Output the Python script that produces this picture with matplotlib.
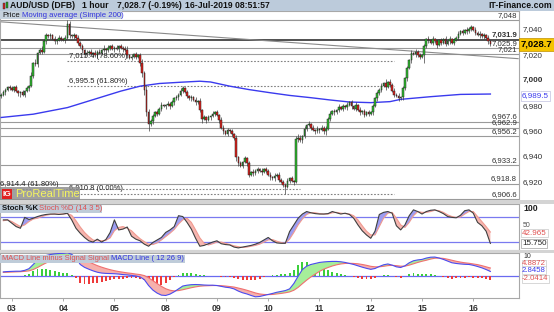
import matplotlib
matplotlib.use("Agg")
import matplotlib.pyplot as plt
import matplotlib.transforms as mtransforms
from matplotlib.patches import Rectangle
import numpy as np

plt.rcParams['font.family'] = ['Liberation Sans', 'DejaVu Sans']

W, H = 554, 312

# ---- data ----
# hourly closes, 02-Jul 19:00 -> 16-Jul 08:00 (AUD/USD x 10000)
closes = [
    6989, 6991, 6993, 6995, 6994,
    # 03 Jul
    6993, 6995, 6992, 6990, 6991, 6989, 6992, 6994, 6996, 7004, 7014, 7013,
    7022, 7024, 7023, 7031, 7036, 7035, 7036, 7033, 7031, 7032, 7034, 7033,
    # 04 Jul
    7032, 7034, 7045, 7036, 7035, 7036, 7034, 7030, 7027, 7024, 7021, 7022,
    7023, 7021, 7022, 7020, 7023, 7022, 7024, 7025, 7024, 7026, 7027, 7025,
    # 05 Jul
    7026, 7025, 7027, 7026, 7025, 7024, 7020, 7018, 7019, 7021, 7019, 7020,
    7014, 7006, 6993, 6975, 6966, 6968, 6972, 6975, 6974, 6978, 6981, 6980,
    # 08 Jul
    6981, 6982, 6980, 6983, 6986, 6987, 6989, 6992, 6994, 6991, 6988, 6986,
    6987, 6985, 6983, 6984, 6977, 6970, 6971, 6969, 6971, 6972, 6974, 6975,
    # 09 Jul
    6973, 6969, 6963, 6960, 6958, 6961, 6960, 6958, 6955, 6940, 6935, 6933,
    6936, 6939, 6935, 6926, 6928, 6927, 6929, 6930, 6929, 6928, 6930, 6929,
    # 10 Jul
    6926, 6924, 6923, 6925, 6926, 6922, 6920, 6918, 6916, 6921, 6923, 6921,
    6920, 6954, 6955, 6953, 6956, 6962, 6965, 6966, 6963, 6961, 6960, 6962,
    # 11 Jul
    6961, 6963, 6960, 6962, 6970, 6974, 6976, 6975, 6977, 6979, 6978, 6980,
    6979, 6981, 6983, 6980, 6978, 6981, 6977, 6975, 6976, 6973, 6975, 6974,
    # 12 Jul
    6975, 6980, 6986, 6990, 6993, 6996, 6998, 6995, 6999, 6997, 6992, 6989,
    6988, 6986, 6987, 6994, 7002, 7010, 7016, 7022, 7021, 7023, 7020, 7019,
    # 15 Jul
    7020, 7027, 7033, 7032, 7030, 7033, 7031, 7028, 7032, 7030, 7033, 7029,
    7031, 7033, 7030, 7032, 7034, 7037, 7039, 7038, 7040, 7039, 7041, 7042,
    # 16 Jul
    7040, 7038, 7036, 7037, 7035, 7036, 7034, 7031, 7028.7,
]
first_open = 6988.0
upper_wick = [
    1, 2, 1, 1, 2,
    2, 1, 2, 1, 1, 2, 1, 2, 1, 3, 1, 3, 1, 2, 3, 1, 2, 1, 2, 1, 2, 1, 2, 1,
    1, 2, 3, 2, 1, 2, 1, 2, 1, 2, 1, 2, 1, 2, 1, 2, 1, 2, 1, 3, 1, 2, 1, 2,
    1, 2, 1, 2, 1, 2, 3, 1, 2, 1, 2, 1, 2, 3, 2, 4, 3, 2, 2, 1, 2, 1, 2, 1,
    1, 2, 1, 2, 1, 2, 1, 2, 2, 1, 2, 1, 2, 1, 2, 1, 2, 1, 2, 1, 2, 1, 2, 1,
    2, 1, 2, 2, 1, 2, 1, 2, 1, 2, 1, 2, 1, 2, 1, 2, 1, 2, 1, 2, 1, 2, 1, 2,
    1, 2, 1, 2, 1, 2, 1, 2, 1, 2, 1, 2, 1, 2, 3, 2, 1, 2, 1, 2, 1, 2, 1, 2,
    1, 2, 1, 2, 1, 2, 1, 2, 1, 3, 1, 2, 1, 2, 1, 2, 1, 2, 1, 2, 1, 2, 1, 2,
    1, 2, 1, 2, 1, 2, 1, 3, 1, 2, 1, 2, 1, 2, 1, 2, 1, 2, 1, 2, 1, 2, 1, 2,
    1, 2, 1, 2, 1, 2, 1, 2, 1, 2, 1, 2, 1, 2, 1, 2, 1, 2, 1, 2, 1, 2, 1, 2,
    1, 2, 1, 2, 1, 2, 1, 2, 1,
]
lower_wick = [
    2, 1, 2, 1, 1,
    1, 2, 1, 2, 3, 1, 2, 1, 2, 1, 2, 1, 2, 1, 2, 1, 2, 1, 2, 1, 2, 2, 1, 2,
    1, 2, 1, 2, 1, 2, 1, 2, 1, 2, 2, 1, 2, 1, 2, 1, 2, 1, 2, 1, 2, 1, 2, 1,
    2, 1, 2, 1, 2, 1, 2, 1, 2, 1, 2, 1, 2, 3, 4, 3, 6, 2, 2, 1, 2, 1, 2, 1,
    2, 1, 2, 1, 2, 1, 2, 1, 2, 1, 2, 1, 2, 1, 2, 1, 2, 3, 1, 2, 1, 2, 1, 2,
    1, 2, 1, 2, 1, 2, 1, 2, 2, 3, 2, 1, 2, 1, 2, 2, 1, 2, 1, 2, 1, 2, 1, 2,
    1, 2, 1, 2, 1, 2, 1, 2, 5, 1, 2, 1, 2, 1, 2, 1, 2, 1, 2, 1, 2, 1, 2, 1,
    2, 1, 2, 3, 1, 2, 1, 2, 1, 2, 1, 2, 1, 2, 1, 2, 1, 2, 1, 2, 1, 2, 1, 2,
    1, 2, 1, 2, 1, 2, 1, 2, 1, 2, 1, 2, 1, 2, 1, 2, 1, 2, 1, 2, 1, 2, 1, 2,
    1, 6, 1, 2, 1, 2, 1, 2, 1, 2, 1, 2, 1, 2, 1, 2, 1, 2, 1, 2, 1, 2, 1, 2,
    1, 2, 1, 2, 1, 2, 1, 2, 1,
]

# simple 200 moving average read at a few hours
ma_hours = [-5, 10, 26, 41, 51, 60, 69, 79, 88, 93, 102, 111, 121, 130, 140,
            149, 158, 168, 177, 182, 196, 210, 224]
ma_values = [6971.0, 6973.6, 6978.8, 6986.6, 6991.8, 6995.7, 6997.8, 6998.8,
             6999.6, 6999.0, 6995.7, 6993.0, 6990.5, 6988.4, 6986.6, 6984.8,
             6983.2, 6982.7, 6983.5, 6985.3, 6987.4, 6989.2, 6989.5]

# indicators read every 2 hours (-4 .. 224)
stoch_k = [
    72, 72, 64, 56, 52, 78, 73, 76, 80, 83,
    85, 86, 86, 85, 86, 88, 72, 52, 40, 30,
    22, 19, 26, 19, 25, 42, 72, 48, 50, 55,
    33, 26, 22, 14, 9, 18, 24, 30, 42, 48,
    56, 82, 80, 66, 50, 28, 9, 11, 15, 19,
    22, 15, 13, 12, 7, 5, 7, 9, 11, 14,
    18, 24, 30, 22, 17, 16, 16, 44, 60, 76,
    86, 92, 89, 87, 86, 86, 87, 92, 89, 86,
    88, 85, 76, 60, 46, 36, 28, 45, 85, 90,
    92, 88, 58, 48, 60, 82, 96, 92, 86, 92,
    95, 96, 92, 87, 80, 78, 77, 83, 94, 96,
    88, 66, 58, 45, 15.75,
]
stoch_d = [
    70, 72, 68, 62, 56, 60, 68, 74, 76, 80,
    83, 85, 86, 86, 86, 87, 83, 70, 55, 42,
    32, 24, 22, 22, 23, 29, 46, 54, 56, 52,
    46, 36, 27, 20, 14, 13, 17, 24, 32, 40,
    49, 62, 72, 76, 66, 48, 29, 16, 12, 15,
    19, 19, 16, 13, 10, 8, 6, 7, 9, 11,
    14, 19, 24, 25, 21, 18, 16, 26, 42, 60,
    74, 85, 89, 89, 87, 86, 86, 89, 90, 88,
    87, 86, 82, 72, 58, 45, 36, 36, 56, 76,
    88, 90, 76, 60, 54, 66, 82, 92, 90, 90,
    92, 95, 94, 90, 84, 80, 78, 79, 86, 92,
    92, 80, 68, 56, 42.965,
]
macd_line = [
    2.6, 2.8, 2.9, 3.0, 3.0, 3.5, 4.5, 7.0, 9.6, 11.2,
    12.3, 12.9, 13.3, 13.5, 13.6, 14.0, 13.0, 11.0, 7.0, 5.3,
    4.2, 3.2, 2.4, 1.9, 1.7, 1.6, 1.5, 1.3, 1.0, 0.8,
    0.5, 0.2, -0.4, -2.0, -5.5, -8.2, -10.0, -11.2, -11.4, -10.6,
    -9.2, -7.5, -5.8, -5.3, -5.0, -4.9, -5.0, -5.2, -5.3, -5.3,
    -5.5, -6.0, -6.5, -6.8, -7.5, -8.8, -9.8, -10.5, -11.4, -12.2,
    -12.0, -11.4, -10.8, -10.2, -9.5, -9.0, -8.5, -7.5, -4.3, 0.0,
    4.0, 6.0, 7.0, 7.6, 8.2, 8.5, 8.7, 8.8, 8.8, 8.6,
    8.2, 7.6, 7.0, 6.2, 5.4, 4.7, 4.1, 4.6, 5.8, 6.8,
    7.3, 6.6, 5.6, 5.2, 6.2, 8.0, 9.2, 9.7, 10.0, 10.8,
    11.3, 11.4, 10.8, 10.0, 9.0, 8.0, 7.6, 7.3, 7.1, 7.0,
    6.5, 5.8, 5.0, 4.0, 2.8458,
]
macd_signal = [
    2.3, 2.4, 2.5, 2.6, 2.7, 2.9, 3.2, 4.0, 5.2, 6.6,
    7.9, 9.0, 10.0, 10.8, 11.5, 12.0, 12.3, 12.1, 11.0, 9.8,
    8.6, 7.4, 6.3, 5.4, 4.6, 3.9, 3.3, 2.8, 2.4, 2.0,
    1.7, 1.3, 1.0, 0.4, -0.9, -2.6, -4.3, -6.0, -7.4, -8.3,
    -8.7, -8.5, -8.0, -7.4, -6.8, -6.3, -5.9, -5.7, -5.6, -5.5,
    -5.5, -5.6, -5.8, -6.1, -6.4, -7.0, -7.6, -8.3, -9.1, -9.9,
    -10.5, -10.8, -10.9, -10.8, -10.5, -10.2, -9.8, -9.3, -8.3, -6.6,
    -4.4, -2.3, -0.4, 1.3, 2.9, 4.2, 5.2, 6.1, 6.8, 7.3,
    7.6, 7.7, 7.6, 7.4, 7.0, 6.5, 5.9, 5.6, 5.6, 5.9,
    6.3, 6.5, 6.3, 6.0, 6.0, 6.6, 7.4, 8.2, 8.9, 9.5,
    10.2, 10.7, 10.8, 10.6, 10.1, 9.5, 8.9, 8.4, 8.0, 7.7,
    7.3, 6.9, 6.3, 5.6, 4.8872,
]

day_labels = ['03', '04', '05', '08', '09', '10', '11', '12', '15', '16']

levels = [7048.0, 7031.9, 7025.9, 7021.0, 6967.6, 6962.9, 6956.2, 6933.2, 6918.8, 6906.6]
level_labels = ['7,048', '7,031.9', '7,025.9', '7,021', '6,967.6', '6,962.9',
                '6,956.2', '6,933.2', '6,918.8', '6,906.6']

fib_levels = [7015.4, 6995.5, 6910.8, 6914.4]
fib_labels = ['7,015.4 (78.60%)', '6,995.5 (61.80%)', '6,910.8 (0.00%)', '6,914.4 (61.80%)']
fib_start = [26, 26, 26, -6]
fib_end = [179, 179, 179, 135]

trend_hours = [-5.6, 237]
trend_prices = [7046.5, 7017.4]

price_ticks = [7040, 7020, 7000, 6980, 6960, 6940, 6920]
last_price = 7028.7
last_ma = 6989.5

# ---- derived arrays ----
n = len(closes)
hours = np.arange(n) - 5
c = np.array(closes, dtype=float)
o = np.concatenate([[first_open], c[:-1]])
hi = np.maximum(o, c) + np.array(upper_wick)
lo = np.minimum(o, c) - np.array(lower_wick)
ind_hours = np.arange(-4, 225, 2)
k = np.array(stoch_k, dtype=float)
d = np.array(stoch_d, dtype=float)
ml = np.array(macd_line)
sg = np.array(macd_signal)
hist = ml - sg

XMIN, XMAX = -5.56, 237.4

fig = plt.figure(figsize=(W / 100, H / 100), dpi=100)
fig.patch.set_facecolor('white')


def rect(x0, y0, x1, y1):
    return [x0 / W, 1 - y1 / H, (x1 - x0) / W, (y1 - y0) / H]


def ftext(x, y, s, **kw):
    kw.setdefault('va', 'center')
    return fig.text(x / W, 1 - y / H, s, **kw)


def fbox(x0, y0, x1, y1, **kw):
    fig.patches.append(Rectangle((x0 / W, 1 - y1 / H), (x1 - x0) / W, (y1 - y0) / H,
                                 transform=fig.transFigure, **kw))


# separators
fbox(0, 200, 554, 204, fc='#d4d4d4', ec='none', zorder=0)
fbox(0, 250, 554, 252.5, fc='#d4d4d4', ec='none', zorder=0)

ax = fig.add_axes(rect(0, 11, 519, 200.5))
ax2 = fig.add_axes(rect(0, 204, 519, 250))
ax3 = fig.add_axes(rect(0, 252.5, 519, 298))

for a in (ax, ax2, ax3):
    a.set_xlim(XMIN, XMAX)
    a.set_yticks([])
    a.set_xticks([])
    for s in a.spines.values():
        s.set_color('#a8a8a8')
        s.set_linewidth(0.8)

# ---- price panel ----
ax.set_ylim(6905.5, 7055.0)
for lv, lab in zip(levels, level_labels):
    if lv == 7031.9:
        ax.axhline(lv, color='#505050', lw=1.4, zorder=1)
    else:
        ax.axhline(lv, color='#9a9a9a', lw=0.8, zorder=1)
    ax.text(236.5, lv + 1.0, lab, ha='right', va='bottom', fontsize=5.6,
            color='#303030', fontweight='bold' if lv == 7031.9 else 'normal', zorder=5)

for lv, lab, s0, s1 in zip(fib_levels, fib_labels, fib_start, fib_end):
    ax.plot([s0, s1], [lv, lv], color='#808080', lw=0.8, ls=(0, (1.5, 1.5)), zorder=1)
    ax.text(s0 + 0.6, lv + 1.2, lab, ha='left', va='bottom', fontsize=5.5,
            color='#202020', zorder=6)

ax.plot(trend_hours, trend_prices, color='#8a8a8a', lw=0.8, zorder=1)
ax.plot(ma_hours, ma_values, color='#3a3aee', lw=1.0, zorder=3)

up = c >= o
body_lo = np.minimum(o, c)
body_h = np.maximum(np.abs(c - o), 0.3)
ax.vlines(hours, lo, hi, color='#404040', lw=0.5, zorder=3)
ax.bar(hours, body_h, bottom=body_lo, width=0.75,
       color=np.where(up, '#2fbf2f', '#e0201c'), edgecolor='#202020',
       linewidth=0.35, zorder=4)

ytr = mtransforms.blended_transform_factory(ax.transAxes, ax.transData)
for p in price_ticks:
    ax.text(1 + 4 / 519, p, f'{p:,}', transform=ytr, ha='left', va='center',
            fontsize=5.8, color='#303030', fontweight='bold' if p == 7000 else 'normal',
            clip_on=False)
ax.text(1 + 1.5 / 519, last_price, f'{last_price:,.1f}', transform=ytr, ha='left',
        va='center', fontsize=6.8, fontweight='bold', color='black', clip_on=False,
        bbox=dict(boxstyle='square,pad=0.18', fc='#f5c400', ec='#c09000', lw=0.5), zorder=10)
ax.text(1 + 3 / 519, last_ma - 1.5, f'{last_ma:,.1f}', transform=ytr, ha='left',
        va='center', fontsize=5.8, color='#3a3aee', clip_on=False,
        bbox=dict(boxstyle='square,pad=0.15', fc='white', ec='#c0c0e0', lw=0.5), zorder=10)

# ---- stochastic panel ----
ax2.set_ylim(0, 110)
ax2.axhline(80, color='#7a7af0', lw=0.9, zorder=1)
ax2.axhline(20, color='#7a7af0', lw=0.9, zorder=1)
ax2.fill_between(ind_hours, k, d, where=k >= d, interpolate=True, color='#9d9df2', lw=0, zorder=2)
ax2.fill_between(ind_hours, k, d, where=k < d, interpolate=True, color='#f6b6b0', lw=0, zorder=2)
ax2.plot(ind_hours, d, color='#f09a90', lw=0.8, zorder=3)
ax2.plot(ind_hours, k, color='#404040', lw=0.8, zorder=4)

ytr2 = mtransforms.blended_transform_factory(ax2.transAxes, ax2.transData)
ax2.text(1 + 4 / 519, 100, '100', transform=ytr2, ha='left', va='center', fontsize=6.3,
         fontweight='bold', color='#202020', clip_on=False)
ax2.text(1 + 4 / 519, 58, '50', transform=ytr2, ha='left', va='center', fontsize=5,
         color='#505050', clip_on=False)
ax2.text(1 + 3 / 519, 40.5, '42.965', transform=ytr2, ha='left', va='center',
         fontsize=5.8, color='#e05050', clip_on=False,
         bbox=dict(boxstyle='square,pad=0.1', fc='white', ec='#c8c8c8', lw=0.5))
ax2.text(1 + 3 / 519, 15.75, '15.750', transform=ytr2, ha='left', va='center',
         fontsize=5.8, color='#202020', clip_on=False,
         bbox=dict(boxstyle='square,pad=0.1', fc='white', ec='#a0a0a0', lw=0.5))

# ---- MACD panel ----
ax3.set_ylim(-12.9, 14.1)
ax3.axhline(0, color='#6a6af0', lw=0.9, zorder=1)
ax3.bar(ind_hours, hist, width=0.9, color=np.where(hist >= 0, '#3ccf3c', '#ee3a3a'),
        lw=0, zorder=2)
ax3.fill_between(ind_hours, ml, sg, where=ml >= sg, interpolate=True, color='#a6ee9a', lw=0, zorder=2)
ax3.fill_between(ind_hours, ml, sg, where=ml < sg, interpolate=True, color='#f6b0ac', lw=0, zorder=2)
ax3.plot(ind_hours, sg, color='#f07070', lw=0.8, zorder=3)
ax3.plot(ind_hours, ml, color='#4a4af0', lw=0.8, zorder=4)

ytr3 = mtransforms.blended_transform_factory(ax3.transAxes, ax3.transData)
ax3.text(1 + 4 / 519, 11.6, '10', transform=ytr3, ha='left', va='center', fontsize=5,
         color='#303030', clip_on=False)
for val, yv, col in [(4.8872, 7.6, '#e05050'), (2.8458, 3.6, '#3a3aee'), (-2.0414, -1.4, '#e05050')]:
    ax3.text(1 + 3 / 519, yv, f'{val:.4f}', transform=ytr3, ha='left', va='center',
             fontsize=5.6, color=col, clip_on=False,
             bbox=dict(boxstyle='square,pad=0.05', fc='white', ec='#c8c8c8', lw=0.5))

ax3.set_xticks(np.arange(len(day_labels)) * 24)
ax3.set_xticklabels(day_labels, fontsize=6.3, fontweight='bold', color='#303030')
ax3.tick_params(axis='x', length=2, width=0.6, color='#a0a0a0', pad=2)

# ---- header and panel titles ----
fbox(0, 0, 554, 11, fc='#bccbdb', ec='none', zorder=0)
fbox(2.5, 3, 4.5, 9, fc='#d02020', ec='#303030', lw=0.3)
fbox(5.5, 2, 7.5, 8, fc='#20a020', ec='#303030', lw=0.3)
hdr = dict(fontsize=6.2, fontweight='bold', color='#111111')
ftext(10, 5.8, 'AUD/USD (DFB)', **hdr)
ftext(82, 5.8, '1 hour', **hdr)
ftext(117, 5.8, '7,028.7 (-0.19%)', **hdr)
ftext(185, 5.8, '16-Jul-2019 08:51:57', **hdr)
ftext(552, 5.8, 'IT-Finance.com', ha='right', **hdr)

fbox(0, 11, 122, 19, fc='#c6d2de', ec='none', zorder=5)
ftext(2, 15.2, 'Price', fontsize=5.6, color='#111111', zorder=6)
ftext(22, 15.2, 'Moving average (Simple 200)', fontsize=5.6, color='#3333dd', zorder=6)

fbox(0, 204.5, 102, 213, fc='#bfccd9', ec='none', zorder=5)
ftext(2, 208.8, 'Stoch %K', fontsize=5.6, fontweight='bold', color='#111111', zorder=6)
ftext(39, 208.8, 'Stoch %D (14 3 5)', fontsize=5.6, color='#e05050', zorder=6)

fbox(0, 254.5, 185, 263, fc='#bfccd9', ec='none', zorder=5)
ftext(2, 258.8, 'MACD Line minus Signal Signal', fontsize=5.4, color='#e05050', zorder=6)
ftext(111, 258.8, 'MACD Line ( 12 26 9)', fontsize=5.4, color='#3333dd', zorder=6)

# logo
fbox(0, 187, 80, 200, fc='#8f8f8f', ec='none', alpha=0.85, zorder=5)
fbox(2, 188.5, 12, 199, fc='#e02020', ec='none', zorder=6)
ftext(7, 194, 'IG', fontsize=6, fontweight='bold', color='white', ha='center', zorder=7)
ftext(15, 194, 'ProRealTime', fontsize=8, color='#f4f460', zorder=7)

fig.savefig('out.png', dpi=100, facecolor=fig.get_facecolor())
